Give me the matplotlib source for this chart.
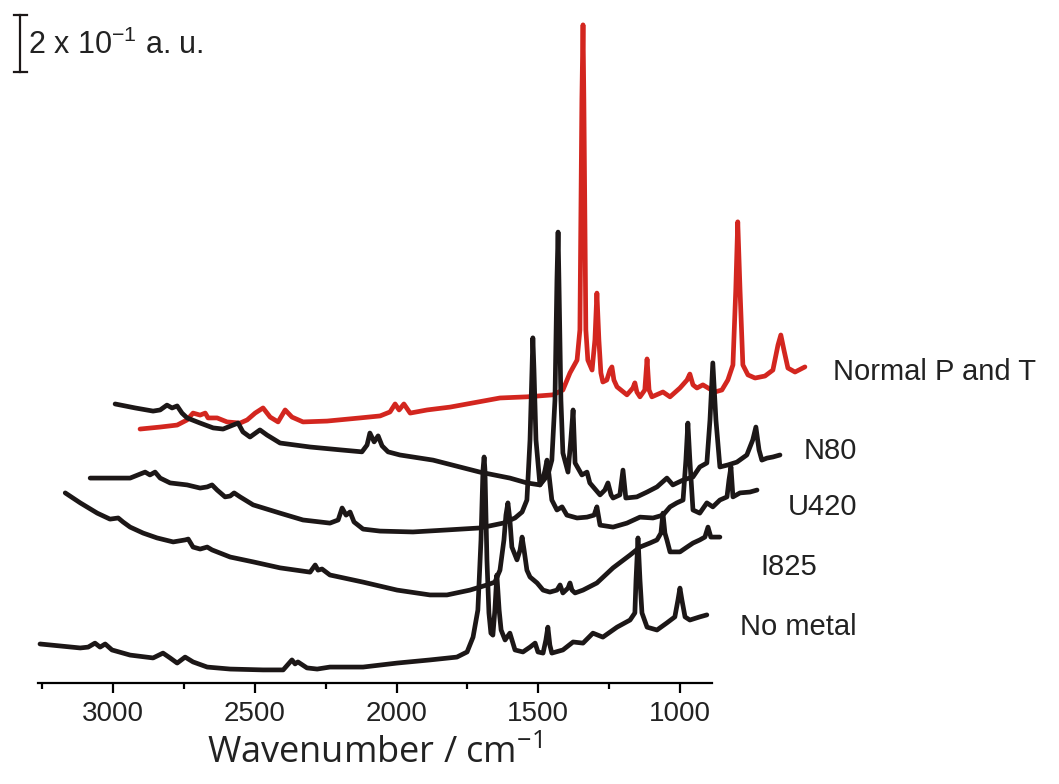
import numpy as np
import matplotlib
matplotlib.use("Agg")
from matplotlib import pyplot as plt

plt.rcParams["mathtext.default"] = "regular"

# waterfall of Raman spectra, each trace already offset as drawn in the figure
# x: wavenumber (cm-1), y: intensity in a.u.

normal_x = [2905, 2834, 2774, 2739, 2718, 2693, 2675, 2665, 2633, 2598, 2552, 2527, 2499, 2471,
            2446, 2418, 2393, 2369, 2330, 2245, 2129, 2058, 2023, 2005, 1991, 1974, 1952, 1892,
            1811, 1635, 1540, 1448, 1413, 1388, 1363, 1353, 1346, 1342, 1339, 1332, 1325, 1310,
            1300, 1293, 1286, 1279, 1272, 1258, 1247, 1240, 1233, 1222, 1187, 1166, 1159, 1152,
            1141, 1124, 1116, 1109, 1099, 1060, 1035, 1000, 975, 965, 954, 940, 919, 877, 852,
            831, 813, 803, 796, 788, 778, 760, 735, 700, 672, 654, 644, 633, 619, 594, 559]
normal_y = [0.891, 0.898, 0.905, 0.923, 0.947, 0.940, 0.947, 0.930, 0.930, 0.916, 0.912, 0.923,
            0.947, 0.965, 0.933, 0.916, 0.958, 0.933, 0.916, 0.919, 0.930, 0.937, 0.951, 0.979,
            0.958, 0.979, 0.947, 0.958, 0.968, 1.000, 1.004, 1.011, 1.028, 1.088, 1.133, 1.239,
            2.046, 2.309, 2.046, 1.239, 1.133, 1.098, 1.204, 1.368, 1.204, 1.088, 1.056, 1.063,
            1.098, 1.109, 1.063, 1.039, 1.011, 1.035, 1.053, 1.021, 1.004, 1.028, 1.137, 1.028,
            1.004, 1.021, 1.004, 1.035, 1.063, 1.084, 1.046, 1.035, 1.046, 1.021, 1.028, 1.063,
            1.116, 1.379, 1.618, 1.379, 1.116, 1.081, 1.070, 1.077, 1.098, 1.186, 1.221, 1.168,
            1.105, 1.091, 1.109]

n80_x = [2993, 2922, 2859, 2834, 2810, 2792, 2774, 2757, 2739, 2693, 2647, 2612, 2577, 2559,
         2542, 2517, 2482, 2457, 2411, 2305, 2199, 2122, 2104, 2094, 2079, 2065, 2051, 2030,
         1988, 1871, 1706, 1600, 1540, 1494, 1466, 1452, 1441, 1434, 1430, 1427, 1420, 1413,
         1395, 1385, 1377, 1370, 1346, 1328, 1318, 1282, 1265, 1254, 1243, 1236, 1212, 1201,
         1191, 1152, 1116, 1081, 1046, 1025, 989, 954, 930, 905, 894, 884, 873, 859, 831, 799,
         764, 743, 732, 721, 711, 693, 672, 647]
n80_y = [0.979, 0.965, 0.954, 0.958, 0.975, 0.965, 0.972, 0.947, 0.930, 0.912, 0.895, 0.891,
         0.905, 0.912, 0.881, 0.863, 0.888, 0.870, 0.842, 0.828, 0.818, 0.811, 0.835, 0.877,
         0.846, 0.867, 0.832, 0.811, 0.800, 0.782, 0.740, 0.719, 0.702, 0.695, 0.730, 0.782,
         0.993, 1.414, 1.582, 1.414, 0.993, 0.807, 0.740, 0.853, 0.958, 0.772, 0.730, 0.740,
         0.702, 0.660, 0.677, 0.702, 0.660, 0.649, 0.660, 0.747, 0.649, 0.653, 0.670, 0.688,
         0.719, 0.695, 0.712, 0.723, 0.758, 0.772, 0.923, 1.123, 0.923, 0.758, 0.765, 0.775,
         0.800, 0.853, 0.898, 0.818, 0.782, 0.789, 0.793, 0.800]

u420_x = [3081, 2940, 2905, 2887, 2870, 2852, 2834, 2799, 2739, 2693, 2668, 2651, 2633, 2605,
          2587, 2573, 2552, 2506, 2411, 2330, 2235, 2206, 2192, 2178, 2164, 2150, 2118, 2058,
          1942, 1822, 1706, 1624, 1582, 1557, 1540, 1529, 1522, 1519, 1515, 1508, 1494, 1483,
          1476, 1469, 1462, 1452, 1434, 1416, 1399, 1363, 1328, 1303, 1293, 1282, 1236, 1187,
          1141, 1095, 1060, 1035, 1011, 989, 979, 972, 965, 954, 930, 905, 884, 859, 834, 827,
          820, 813, 788, 753, 728]
u420_y = [0.719, 0.719, 0.733, 0.740, 0.730, 0.740, 0.719, 0.702, 0.695, 0.684, 0.688, 0.695,
          0.677, 0.653, 0.656, 0.667, 0.653, 0.625, 0.596, 0.572, 0.561, 0.572, 0.614, 0.589,
          0.600, 0.565, 0.540, 0.533, 0.530, 0.537, 0.544, 0.561, 0.579, 0.600, 0.642, 0.853,
          1.098, 1.211, 1.098, 0.853, 0.695, 0.719, 0.747, 0.782, 0.730, 0.642, 0.607, 0.618,
          0.589, 0.579, 0.582, 0.589, 0.618, 0.554, 0.547, 0.561, 0.582, 0.579, 0.589, 0.618,
          0.632, 0.642, 0.782, 0.912, 0.782, 0.607, 0.596, 0.632, 0.618, 0.642, 0.653, 0.712,
          0.758, 0.653, 0.667, 0.670, 0.677]

i825_x = [3169, 3116, 3056, 3011, 2982, 2965, 2940, 2894, 2845, 2788, 2746, 2735, 2718, 2693,
          2668, 2651, 2587, 2506, 2411, 2305, 2287, 2277, 2263, 2235, 2118, 1998, 1882, 1822,
          1741, 1681, 1653, 1635, 1621, 1614, 1607, 1600, 1593, 1575, 1564, 1557, 1550, 1540,
          1529, 1504, 1483, 1459, 1434, 1423, 1413, 1395, 1388, 1381, 1370, 1342, 1293, 1236,
          1176, 1141, 1106, 1081, 1067, 1060, 1053, 1046, 1035, 1000, 975, 954, 930, 912, 901,
          891, 859]
i825_y = [0.667, 0.632, 0.596, 0.575, 0.579, 0.565, 0.547, 0.526, 0.509, 0.495, 0.502, 0.505,
          0.477, 0.470, 0.477, 0.467, 0.442, 0.425, 0.404, 0.389, 0.414, 0.396, 0.400, 0.379,
          0.354, 0.326, 0.309, 0.309, 0.326, 0.344, 0.354, 0.396, 0.502, 0.589, 0.632, 0.572,
          0.477, 0.432, 0.467, 0.512, 0.467, 0.396, 0.372, 0.351, 0.326, 0.319, 0.326, 0.344,
          0.316, 0.333, 0.351, 0.326, 0.316, 0.326, 0.351, 0.404, 0.449, 0.477, 0.491, 0.502,
          0.526, 0.596, 0.526, 0.502, 0.460, 0.460, 0.477, 0.491, 0.502, 0.512, 0.547, 0.512,
          0.512]

nometal_x = [3258, 3116, 3088, 3064, 3046, 3028, 3004, 2940, 2859, 2824, 2799, 2774, 2746, 2718,
             2668, 2587, 2471, 2400, 2369, 2358, 2348, 2316, 2280, 2235, 2118, 1998, 1882, 1787,
             1751, 1730, 1713, 1702, 1695, 1691, 1688, 1681, 1674, 1667, 1660, 1653, 1646, 1638,
             1631, 1617, 1600, 1582, 1554, 1529, 1511, 1501, 1483, 1473, 1466, 1459, 1452, 1413,
             1377, 1342, 1307, 1272, 1222, 1176, 1159, 1155, 1148, 1141, 1134, 1116, 1081, 1046,
             1018, 1007, 1000, 993, 982, 965, 930, 905]
nometal_y = [0.137, 0.123, 0.126, 0.140, 0.126, 0.137, 0.116, 0.098, 0.088, 0.105, 0.088, 0.070,
             0.091, 0.074, 0.056, 0.049, 0.046, 0.046, 0.081, 0.067, 0.074, 0.053, 0.049, 0.056,
             0.056, 0.070, 0.081, 0.091, 0.109, 0.161, 0.256, 0.502, 0.747, 0.793, 0.747, 0.432,
             0.246, 0.175, 0.168, 0.256, 0.379, 0.256, 0.186, 0.151, 0.175, 0.116, 0.109, 0.126,
             0.140, 0.109, 0.105, 0.151, 0.196, 0.133, 0.105, 0.116, 0.144, 0.140, 0.175, 0.161,
             0.196, 0.221, 0.246, 0.361, 0.509, 0.361, 0.246, 0.196, 0.186, 0.211, 0.232, 0.291,
             0.333, 0.291, 0.232, 0.221, 0.232, 0.239]

labels = ["Normal P and T", "N80", "U420", "I825", "No metal"]
scale_bar = 0.2  # a.u.

fig = plt.figure(figsize=(10.59, 7.84), dpi=100)
ax = fig.add_axes([0.0359, 0.1288, 0.6364, 0.8584])

red = "#d3261f"
blk = "#1c1717"
lw = 3.4
kw = dict(lw=lw, clip_on=False, solid_joinstyle="round", solid_capstyle="round")
ax.plot(normal_x, normal_y, color=red, **kw)
ax.plot(n80_x, n80_y, color=blk, **kw)
ax.plot(u420_x, u420_y, color=blk, **kw)
ax.plot(i825_x, i825_y, color=blk, **kw)
ax.plot(nometal_x, nometal_y, color=blk, **kw)

ax.set_xlim(3265, 887)
ax.set_ylim(0, 2.361)
for s in ["left", "right", "top"]:
    ax.spines[s].set_visible(False)
ax.spines["bottom"].set_linewidth(1.6)
ax.set_yticks([])
ax.set_xticks([3000, 2500, 2000, 1500, 1000])
ax.set_xticks([3250, 2750, 2250, 1750, 1250], minor=True)
ax.tick_params(axis="x", which="major", length=7, width=1.6, pad=6, labelsize=20,
               labelcolor="#222222")
ax.tick_params(axis="x", which="minor", length=4, width=1.6)
for t in ax.get_xticklabels():
    t.set_fontfamily("Liberation Sans")
ax.set_xlabel("Wavenumber / cm$^{-1}$", fontsize=26, family="Open Sans", labelpad=6,
              color="#222222")

# scale bar
sb_x = 3328
sb_y0 = 2.144
ax.plot([sb_x, sb_x], [sb_y0, sb_y0 + scale_bar], color=blk, lw=1.6, clip_on=False)
ax.plot([3349, 3305], [sb_y0, sb_y0], color=blk, lw=1.6, clip_on=False)
ax.plot([3349, 3305], [sb_y0 + scale_bar, sb_y0 + scale_bar], color=blk, lw=1.6, clip_on=False)
fig.text(28 / 1059, 1 - 45 / 784, "2 x 10$^{-1}$ a. u.", fontsize=22, family="Liberation Sans",
         va="center", ha="left", color="#222222")

# trace labels
lab_font = dict(fontsize=21, family="Liberation Sans", color="#222222", va="center")
fig.text(833 / 1059, 1 - 372 / 784, labels[0], ha="left", **lab_font)
fig.text(857 / 1059, 1 - 451 / 784, labels[1], ha="right", **lab_font)
fig.text(857 / 1059, 1 - 507 / 784, labels[2], ha="right", **lab_font)
fig.text(760 / 1059, 1 - 567 / 784, labels[3], ha="left", **lab_font)
fig.text(857 / 1059, 1 - 627 / 784, labels[4], ha="right", **lab_font)

fig.savefig("out.png", dpi=100)
